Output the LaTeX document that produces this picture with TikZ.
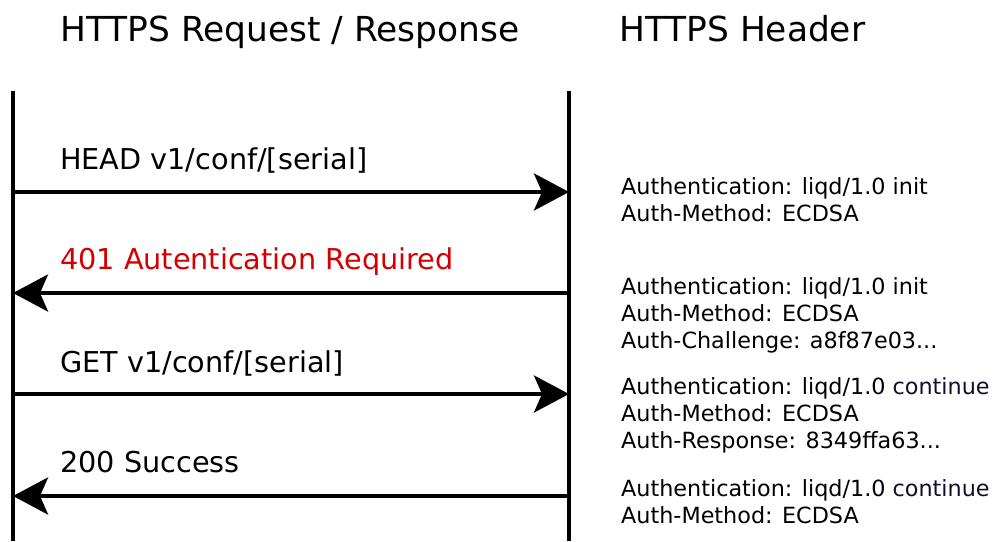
\documentclass[tikz,border=0pt]{standalone}
\usepackage{fontspec}
\setmainfont{DejaVu Sans}
\usetikzlibrary{arrows.meta}
\definecolor{errred}{RGB}{212,0,0}
\definecolor{contblue}{RGB}{15,15,45}
\newcommand{\contword}{\textcolor{contblue}{continue}}
\tikzset{
  lifeline/.style={line width=4.5pt},
  msg/.style={line width=4pt,-{Stealth[length=35pt,width=37pt,inset=8pt]}},
  title/.style={anchor=base west,inner sep=0pt,font=\fontsize{34.4}{40}\selectfont},
  msglabel/.style={anchor=base west,inner sep=0pt,font=\fontsize{28.7}{34}\selectfont},
  hdr/.style={anchor=base west,inner sep=0pt,font=\fontsize{22.3}{27}\selectfont}
}
\begin{document}
\begin{tikzpicture}[x=1pt,y=-1pt]
\useasboundingbox (0,0) rectangle (1003,541);
% titles
\node[title] (t1) at (60,41) {HTTPS Request / Response};
\node[title] (t2) at (619,41) {HTTPS Header};
% lifelines
\coordinate (ctop) at (13,91);
\coordinate (cbot) at (13,541);
\coordinate (stop) at (569,91);
\coordinate (sbot) at (569,541);
\draw[lifeline] (ctop) -- (cbot);
\draw[lifeline] (stop) -- (sbot);
% message endpoints
\coordinate (c1) at (13,192);  \coordinate (s1) at (569,192);
\coordinate (c2) at (13,293);  \coordinate (s2) at (569,293);
\coordinate (c3) at (13,394);  \coordinate (s3) at (569,394);
\coordinate (c4) at (13,496);  \coordinate (s4) at (569,496);
\draw[msg] (c1) -- (s1);
\draw[msg] (s2) -- (c2);
\draw[msg] (c3) -- (s3);
\draw[msg] (s4) -- (c4);
% message labels
\node[msglabel] (m1) at (60,169) {HEAD v1/conf/[serial]};
\node[msglabel,text=errred] (m2) at (60,269) {401 Autentication Required};
\node[msglabel] (m3) at (60,372) {GET v1/conf/[serial]};
\node[msglabel] (m4) at (60,472) {200 Success};
% headers
\node[hdr] (h1a) at (621,194) {Authentication: liqd/1.0 init};
\node[hdr] (h1b) at (621,221) {Auth-Method: ECDSA};
\node[hdr] (h2a) at (621,294) {Authentication: liqd/1.0 init};
\node[hdr] (h2b) at (621,321) {Auth-Method: ECDSA};
\node[hdr] (h2c) at (621,348) {Auth-Challenge: a8f87e03...};
\node[hdr] (h3a) at (621,394) {Authentication: liqd/1.0 \contword};
\node[hdr] (h3b) at (621,421) {Auth-Method: ECDSA};
\node[hdr] (h3c) at (621,448) {Auth-Response: 8349ffa63...};
\node[hdr] (h4a) at (621,496) {Authentication: liqd/1.0 \contword};
\node[hdr] (h4b) at (621,523) {Auth-Method: ECDSA};
\end{tikzpicture}
\end{document}
